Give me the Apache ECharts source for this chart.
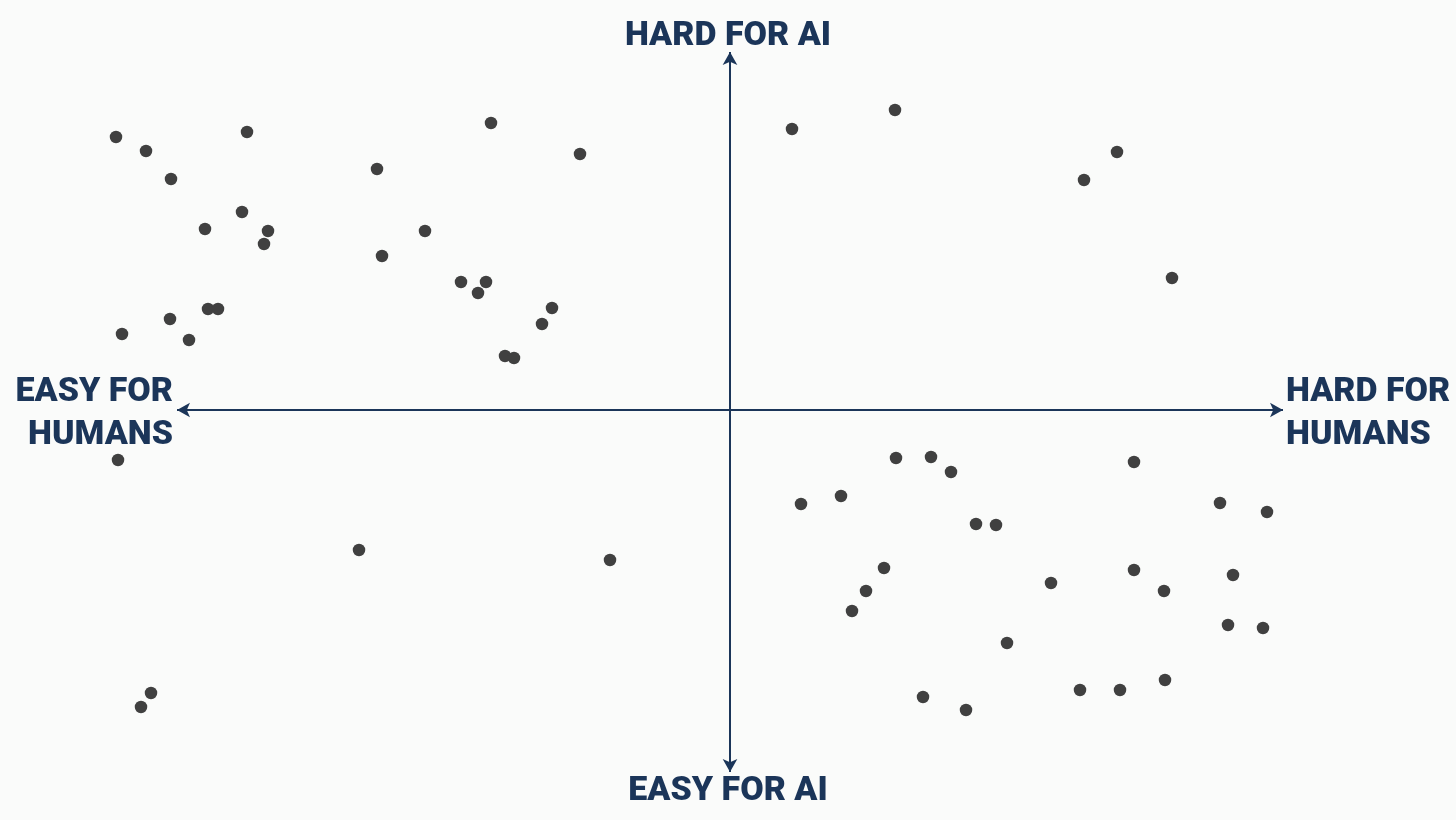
<!DOCTYPE html>
<html>
<head>
<meta charset="utf-8">
<script src="https://cdn.jsdelivr.net/npm/echarts@6/dist/echarts.min.js"></script>
<style>
html,body{margin:0;padding:0;background:#fafbfa;}
#chart{width:1456px;height:820px;}
</style>
</head>
<body>
<div id="chart"></div>
<script>
// Axis labels (quadrant ends)
const labelTop = 'HARD FOR AI';
const labelBottom = 'EASY FOR AI';
const labelLeft = 'EASY FOR\nHUMANS';
const labelRight = 'HARD FOR\nHUMANS';

// Axis arrow extents in data units
const axisXEnds = [-110.6, 110.6];
const axisYEnds = [-72.4, 71.6];

// Points: x = difficulty for humans, y = difficulty for AI
const upperLeftX = [-122.8,-116.8,-111.8,-96.6,-105,-97.6,-92.4,-93.2,-70.6,-47.8,-30,-61,-69.6,-53.8,-48.8,-50.4,-35.6,-37.6,-45,-43.2,-121.6,-112,-104.4,-102.4,-108.2];
const upperLeftY = [54.6,51.8,46.2,55.6,36.2,39.6,35.8,33.2,48.2,57.4,51.2,35.8,30.8,25.6,25.6,23.4,20.4,17.2,10.8,10.4,15.2,18.2,20.2,20.2,14];
const upperRightX = [12.4,33,77.4,70.8,88.4];
const upperRightY = [56.2,60,51.6,46,26.4];
const lowerLeftX = [-122.4,-74.2,-24,-115.8,-117.8];
const lowerLeftY = [-10,-28,-30,-56.6,-59.4];
const lowerRightX = [33.2,40.2,44.2,22.2,14.2,49.2,53.2,80.8,98,107.4,30.8,27.2,24.4,64.2,80.8,86.8,100.6,55.4,99.6,106.6,38.6,47.2,70,78,87];
const lowerRightY = [-9.6,-9.4,-12.4,-17.2,-18.8,-22.8,-23,-10.4,-18.6,-20.4,-31.6,-36.2,-40.2,-34.6,-32,-36.2,-33,-46.6,-43,-43.6,-57.4,-60,-56,-56,-54];

function zip(xs, ys){ return xs.map((x,i)=>[x, ys[i]]); }
const points = [].concat(
  zip(upperLeftX, upperLeftY),
  zip(upperRightX, upperRightY),
  zip(lowerLeftX, lowerLeftY),
  zip(lowerRightX, lowerRightY)
);

const navy = '#1b3559';
const chart = echarts.init(document.getElementById('chart'), null, {renderer:'canvas'});
const labelFont = {fontFamily:'Roboto', fontWeight:900, fontSize:34, fill:navy};

chart.setOption({
  backgroundColor:'#fafbfa',
  animation:false,
  grid:{left:30,right:26,top:30,bottom:30},
  xAxis:{type:'value',min:-140,max:140,show:false},
  yAxis:{type:'value',min:-76,max:76,show:false},
  series:[{
    type:'scatter',
    data:points,
    symbolSize:12.5,
    itemStyle:{color:'#404040',opacity:1},
    z:3,
    markLine:{
      silent:true,
      symbol:['arrow','arrow'],
      symbolSize:[11,13],
      lineStyle:{color:navy,width:2,type:'solid'},
      label:{show:false},
      z:2,
      data:[
        [{coord:[axisXEnds[0],0]},{coord:[axisXEnds[1],0]}],
        [{coord:[0,axisYEnds[0]]},{coord:[0,axisYEnds[1]]}]
      ]
    }
  }],
  graphic:[
    {type:'text',left:'center',top:19,style:Object.assign({text:labelTop,textAlign:'center'},labelFont)},
    {type:'text',left:'center',top:774,style:Object.assign({text:labelBottom,textAlign:'center'},labelFont)},
    {type:'text',right:1456-173,top:371,style:Object.assign({text:labelLeft,textAlign:'right',lineHeight:43},labelFont)},
    {type:'text',left:1286,top:371,style:Object.assign({text:labelRight,textAlign:'left',lineHeight:43},labelFont)}
  ]
});
</script>
</body>
</html>
